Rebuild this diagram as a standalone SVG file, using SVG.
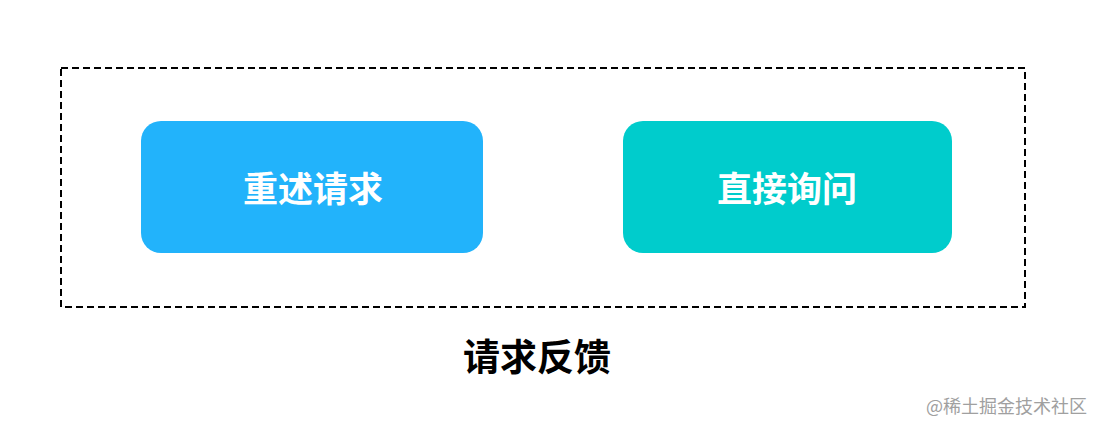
<svg xmlns="http://www.w3.org/2000/svg" width="1094" height="422" viewBox="0 0 1094 422">
<style>
.lbl{font-family:"Noto Sans CJK SC","Noto Sans",sans-serif;font-weight:bold;font-size:35px;fill:#ffffff;text-anchor:middle;dominant-baseline:central}
.title{font-family:"Noto Sans CJK SC","Noto Sans",sans-serif;font-weight:bold;font-size:37px;fill:#000000;text-anchor:middle;dominant-baseline:central}
.wm{font-family:"Noto Sans CJK SC","Noto Sans",sans-serif;font-size:18px;fill:#a0a0a0;text-anchor:end;dominant-baseline:central}
</style>
<rect width="1094" height="422" fill="#ffffff"/>
<g id="group">
<rect x="61" y="68" width="964" height="239" fill="none" stroke="#000" stroke-width="2" stroke-dasharray="7 4"/>
<text class="title" x="537" y="355">请求反馈</text>
</g>
<g id="node1">
<rect x="141" y="121" width="342" height="132" rx="20" fill="#22b3fb"/>
<text class="lbl" x="313" y="186">重述请求</text>
</g>
<g id="node2">
<rect x="623" y="121" width="329" height="132" rx="20" fill="#00cccc"/>
<text class="lbl" x="787" y="186">直接询问</text>
</g>
<g id="connectors"></g>
<text class="wm" x="1087" y="405">@稀土掘金技术社区</text>
</svg>
